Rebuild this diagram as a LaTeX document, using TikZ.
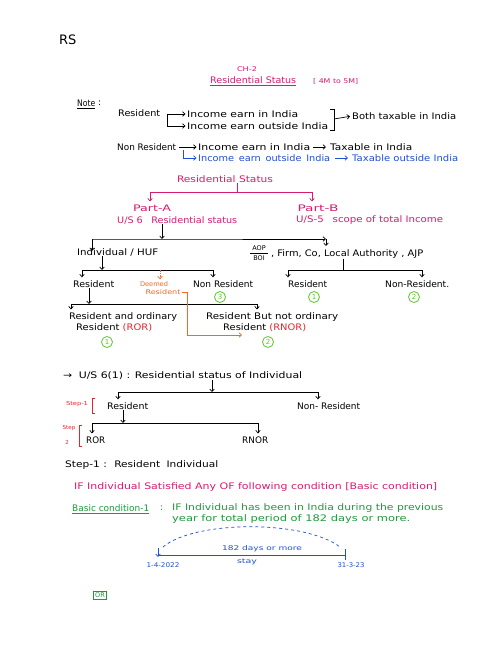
\documentclass[tikz,border=0pt]{standalone}
\usepackage{fontspec}
\setmainfont{DejaVu Sans}
\usetikzlibrary{arrows.meta,calc}
\definecolor{mag}{HTML}{D81B72}
\definecolor{bl}{HTML}{1F4FD6}
\definecolor{grn}{HTML}{1E9A3C}
\definecolor{lime}{HTML}{5CC82A}
\definecolor{org}{HTML}{F26A21}
\definecolor{rd}{HTML}{E6262E}
\newlength\fwlen
\newcommand\fw[2]{\settowidth\fwlen{#2}\pgfmathsetmacro\fwsc{#1/\fwlen}\scalebox{\fwsc}[1]{#2}}
\begin{document}
\begin{tikzpicture}[x=1pt,y=-1pt,
  every node/.style={inner sep=0pt},
  font=\fontsize{9}{10}\selectfont,
  txt/.style={anchor=west},
  small/.style={font=\fontsize{6.5}{7}\selectfont},
  tiny/.style={font=\fontsize{5.5}{6}\selectfont},
  ln/.style={line width=0.7pt},
  arr/.style={ln,-{Straight Barb[length=2.5pt,width=4.5pt]}},
  num/.style={circle,draw=lime,text=lime,line width=0.8pt,minimum size=11pt,font=\fontsize{7}{7}\selectfont}]
\useasboundingbox[fill=white] (0,0) rectangle (500,647);

% header
\node[txt,font=\fontsize{13}{15}\selectfont] (rs) at (59,40) {RS};
\node[mag,small] (ch) at (247,69) {\fw{20}{CH-2}};
\node[txt,mag] (ttl) at (210,80) {\fw{86}{Residential Status}};
\draw[mag,ln] ([yshift=-2pt]ttl.south west) -- ([yshift=-2pt]ttl.south east);
\node[txt,mag,small] (rng) at (313,81) {\fw{45}{[ 4M to 5M]}};

% note
\node[txt] (note) at (77,103) {\fw{18}{Note}};
\node[txt] (notec) at (98,103) {:};
\draw[ln] ([yshift=-1.5pt]note.south west) -- ([yshift=-1.5pt]note.south east);

\node[txt] (res) at (118,113) {\fw{42}{Resident}};
\node[txt] (inc1) at (187,114) {\fw{111}{Income earn in India}};
\node[txt] (inc2) at (187,126) {\fw{141}{Income earn outside India}};
\coordinate (rb) at (167,114);
\draw[arr,shorten >=1.5pt] (rb) -- (inc1.west);
\draw[arr,shorten >=1.5pt] (rb) |- (inc2.west);
\coordinate (brt) at (330,109);
\coordinate (brb) at (330,130);
\coordinate (brm) at (334,119);
\draw[ln] (brt) -- (brt -| brm) -- (brb -| brm) -- (brb);
\node[txt] (both) at (352,116) {\fw{104}{Both taxable in India}};
\draw[arr,shorten >=2pt] (brm) -- (both.west);

\node[txt] (nres) at (117,147) {\fw{59}{Non Resident}};
\node[txt] (ni1) at (198,147) {\fw{112}{Income earn in India}};
\node[txt] (tx1) at (330,147) {\fw{82}{Taxable in India}};
\draw[arr] ([xshift=3pt]ni1.east) -- ([xshift=-4pt]tx1.west);
\node[txt,bl] (ni2) at (198,158) {\fw{132}{Income\, earn\, outside\, India}};
\node[txt,bl] (tx2) at (352,158) {\fw{106}{Taxable outside India}};
\draw[arr,bl] ([xshift=5pt]ni2.east) -- ([xshift=-4pt]tx2.west);
\coordinate (nb) at (179,147);
\coordinate (nb2) at (183,150);
\draw[arr,shorten >=1.5pt] (nb) -- (ni1.west);
\draw[arr,bl,shorten >=1.5pt] (nb2) |- (ni2.west);

% residential status tree
\node[mag] (rst) at (225,179) {\fw{96}{Residential Status}};
\coordinate (rsj) at (237,192);
\draw[mag,ln] (rst.south -| rsj) -- (rsj);
\node[mag] (pA) at (152,208) {\fw{38}{Part-A}};
\node[mag] (pB) at (318,208) {\fw{41}{Part-B}};
\draw[mag,arr] (rsj) -| ([yshift=3pt]pA.north -| 150,0);
\draw[mag,arr] (rsj) -| ([yshift=3pt]pB.north -| 312,0);
\node[txt,mag] (usA) at (117,220) {\fw{120}{U/S 6\;\; Residential status}};
\node[txt,mag] (usB) at (296,220) {\fw{147}{U/S-5\;\; scope of total Income}};

\coordinate (j1) at (162,239);
\draw[arr] (usA.south -| j1) -- (j1);
\node[txt] (ind) at (77,252) {\fw{81}{Individual / HUF}};
\node[small] (aop) at (259,248) {AOP};
\node[small] (boi) at (259,258) {BOI};
\draw[ln] (250,253) -- (268,253);
\node[txt] (oth) at (271,254) {\fw{152}{, Firm, Co, Local Authority , AJP}};
\draw[arr] (j1 -| 92,0) -- (j1) -- (j1 -| 326,0);
\draw[arr] (j1 -| 92,0) -- ([yshift=-3pt]ind.north -| 92,0);
\draw[arr] (j1 -| 326,0) -- (326,246);

% left subtree
\coordinate (j2) at (102,270);
\draw[arr] (ind.south -| j2) -- (j2);
\node[txt] (resL) at (73,284) {\fw{41}{Resident}};
\node[org,small] (dm1) at (154,284) {\fw{28}{Deemed}};
\node[org,small] (dm2) at (163,292) {\fw{35}{Resident}};
\node[txt] (nresL) at (193,284) {\fw{60}{Non Resident}};
\node[num] (c3) at (220,297) {3};
\draw[ln] (82,270) -- (213,270);
\draw[arr] (82,270) -- ([yshift=3pt]resL.north -| 82,0);
\draw[arr] (213,270) -- ([yshift=3pt]nresL.north -| 213,0);
\draw[arr,org,dashed,dash pattern=on 1.5pt off 1pt] (160,270) -- ([yshift=2pt]dm1.north -| 160,0);

\coordinate (j3) at (89,304);
\draw[arr] (resL.south -| j3) -- (j3);
\draw[ln] (71,304) -- (257,304);
\node[txt] (ror1) at (69,317) {\fw{108}{Resident and ordinary}};
\node[txt] (ror2) at (76,328) {\fw{76}{Resident \textcolor{rd}{(ROR)}}};
\node[num] (c1) at (107,342) {1};
\node[txt] (rnor1) at (206,317) {\fw{132}{Resident But not ordinary}};
\node[txt] (rnor2) at (223,328) {\fw{83}{Resident \textcolor{rd}{(RNOR)}}};
\node[num] (c2) at (268,342) {2};
\draw[arr] (71,304) -- ([yshift=3pt]ror1.north -| 71,0);
\draw[arr] (257,304) -- ([yshift=3pt]rnor1.north -| 257,0);
\coordinate (oc) at (187,335);
\draw[arr,org] ([xshift=1pt]dm2.east) -- (dm2.east -| oc) -- (oc) -- (242,335);

% right subtree
\coordinate (j4) at (343,270);
\draw[ln] (oth.south -| j4) -- (j4);
\node[txt] (resR) at (288,284) {\fw{39}{Resident}};
\node[txt] (nresR) at (385,284) {\fw{64}{Non-Resident.}};
\node[num] (c1r) at (314,297) {1};
\node[num] (c2r) at (414,297) {2};
\draw[ln] (288,270) -- (422,270);
\draw[arr] (288,270) -- ([yshift=3pt]resR.north -| 288,0);
\draw[arr] (422,270) -- ([yshift=3pt]nresR.north -| 422,0);

% section 2
\node[txt] (us61) at (63,376) {\fw{239}{\textrightarrow\; U/S 6(1) : Residential status of Individual}};
\coordinate (j5) at (212,392);
\draw[arr] (us61.south -| j5) -- (j5);
\node[txt] (r2) at (107,406) {\fw{41}{Resident}};
\node[txt] (n2) at (297,406) {\fw{63}{Non- Resident}};
\draw[ln] (118,392) -- (318,392);
\draw[arr] (118,392) -- ([yshift=3pt]r2.north -| 118,0);
\draw[arr] (318,392) -- ([yshift=3pt]n2.north -| 318,0);
\node[rd,tiny] (st1) at (77,404) {\fw{22}{Step-1}};
\draw[rd,ln] (95,398) -- (92,398) -- (92,413) -- (95,413);

\coordinate (j6) at (123,423);
\draw[arr] (r2.south -| j6) -- (j6);
\draw[ln] (92,423) -- (258,423);
\node[txt] (ror) at (86,440) {\fw{19}{ROR}};
\node[txt] (rnor) at (242,440) {\fw{26}{RNOR}};
\draw[arr] (92,423) -- ([yshift=3pt]ror.north -| 92,0);
\draw[arr] (258,423) -- ([yshift=3pt]rnor.north -| 258,0);
\node[rd,tiny] (st2a) at (69,428) {Step};
\node[rd,tiny] (st2b) at (67,442) {2};
\draw[rd,ln] (82,425) -- (79,425) -- (79,446) -- (82,446);

% step 1 text
\node[txt] (s1) at (65,465) {\fw{153}{Step-1 :\; Resident\; Individual}};
\node[txt,mag] (cond) at (74,487) {\fw{363}{IF Individual Satisfied Any OF following condition [Basic condition]}};
\node[txt,grn] (bc) at (72,508) {\fw{77}{Basic condition-1}};
\draw[grn,ln] ([yshift=-1.5pt]bc.south west) -- ([yshift=-1.5pt]bc.south east);
\node[txt,grn] (bcc) at (160,508) {:};
\node[txt,grn] (bt1) at (172,508) {\fw{271}{IF Individual has been in India during the previous}};
\node[txt,grn] (bt2) at (172,519) {\fw{238}{year for total period of 182 days or more.}};

% timeline
\coordinate (tl) at (158,555);
\coordinate (tr) at (345,555);
\draw[bl,ln] (tl) -- (tr);
\draw[bl,arr] (158,548) -- (158,557);
\draw[bl,ln] (345,549) -- (345,560);
\draw[bl,ln,dashed,dash pattern=on 3pt off 3pt] (163,547) .. controls (195,520) and (305,520) .. (340,547);
\node[bl,small] (d182) at (262,549) {\fw{80}{182 days or more}};
\node[bl,small] (stay) at (247,562) {\fw{20}{stay}};
\node[bl,small] (dA) at (163,565) {\fw{33}{1-4-2022}};
\node[bl,small] (dB) at (351,565) {\fw{27}{31-3-23}};

\node[draw=grn,text=grn,line width=0.8pt,inner sep=1.5pt,font=\fontsize{6.5}{7}\selectfont] (or) at (100,595) {OR};
\end{tikzpicture}
\end{document}
